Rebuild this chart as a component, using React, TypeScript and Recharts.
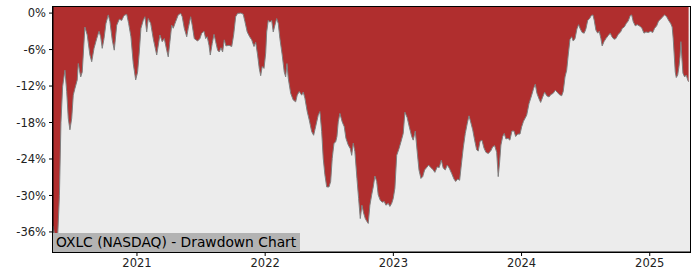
import { AreaChart, Area, XAxis, YAxis, CartesianGrid } from "recharts"

// decimal years
const dates = [
    2020.345, 2020.36, 2020.38, 2020.395, 2020.407, 2020.42, 2020.438, 2020.452, 2020.464, 2020.477,
    2020.491, 2020.503, 2020.516, 2020.534, 2020.542, 2020.561, 2020.573, 2020.594, 2020.612, 2020.633,
    2020.647, 2020.665, 2020.686, 2020.704, 2020.717, 2020.729, 2020.743, 2020.758, 2020.776, 2020.789,
    2020.807, 2020.823, 2020.842, 2020.862, 2020.881, 2020.899, 2020.92, 2020.935, 2020.953, 2020.971,
    2020.99, 2021.005, 2021.018, 2021.031, 2021.049, 2021.062, 2021.076, 2021.088, 2021.107, 2021.127,
    2021.154, 2021.179, 2021.197, 2021.213, 2021.232, 2021.244, 2021.257, 2021.271, 2021.283, 2021.302,
    2021.322, 2021.341, 2021.353, 2021.369, 2021.388, 2021.4, 2021.419, 2021.431, 2021.447, 2021.473,
    2021.491, 2021.505, 2021.523, 2021.536, 2021.548, 2021.562, 2021.572, 2021.587, 2021.601, 2021.614,
    2021.629, 2021.642, 2021.655, 2021.668, 2021.681, 2021.694, 2021.718, 2021.739, 2021.754, 2021.77,
    2021.785, 2021.811, 2021.829, 2021.842, 2021.86, 2021.879, 2021.895, 2021.913, 2021.926, 2021.941,
    2021.954, 2021.965, 2021.977, 2021.991, 2022.004, 2022.012, 2022.024, 2022.037, 2022.051, 2022.063,
    2022.076, 2022.09, 2022.102, 2022.115, 2022.133, 2022.149, 2022.16, 2022.17, 2022.18, 2022.199,
    2022.219, 2022.238, 2022.25, 2022.266, 2022.285, 2022.297, 2022.31, 2022.328, 2022.344, 2022.363,
    2022.378, 2022.388, 2022.402, 2022.414, 2022.427, 2022.441, 2022.453, 2022.466, 2022.48, 2022.498,
    2022.511, 2022.523, 2022.537, 2022.55, 2022.56, 2022.57, 2022.583, 2022.601, 2022.617, 2022.63,
    2022.648, 2022.664, 2022.675, 2022.687, 2022.7, 2022.716, 2022.729, 2022.742, 2022.755, 2022.768,
    2022.781, 2022.794, 2022.804, 2022.817, 2022.831, 2022.843, 2022.856, 2022.87, 2022.882, 2022.898,
    2022.913, 2022.929, 2022.942, 2022.96, 2022.973, 2022.987, 2022.999, 2023.012, 2023.026, 2023.044,
    2023.059, 2023.077, 2023.09, 2023.108, 2023.124, 2023.143, 2023.155, 2023.171, 2023.186, 2023.2,
    2023.215, 2023.229, 2023.244, 2023.26, 2023.275, 2023.291, 2023.307, 2023.324, 2023.342, 2023.358,
    2023.374, 2023.389, 2023.405, 2023.42, 2023.436, 2023.455, 2023.473, 2023.486, 2023.502, 2023.517,
    2023.53, 2023.545, 2023.561, 2023.577, 2023.59, 2023.603, 2023.619, 2023.634, 2023.65, 2023.662,
    2023.676, 2023.691, 2023.707, 2023.722, 2023.74, 2023.759, 2023.775, 2023.79, 2023.806, 2023.818,
    2023.829, 2023.839, 2023.853, 2023.865, 2023.878, 2023.894, 2023.909, 2023.925, 2023.941, 2023.954,
    2023.97, 2023.988, 2024.001, 2024.015, 2024.04, 2024.058, 2024.079, 2024.094, 2024.107, 2024.12,
    2024.136, 2024.149, 2024.165, 2024.18, 2024.196, 2024.214, 2024.229, 2024.247, 2024.263, 2024.278,
    2024.294, 2024.313, 2024.325, 2024.339, 2024.352, 2024.364, 2024.378, 2024.391, 2024.403, 2024.417,
    2024.432, 2024.445, 2024.458, 2024.473, 2024.489, 2024.502, 2024.516, 2024.531, 2024.544, 2024.557,
    2024.567, 2024.58, 2024.594, 2024.606, 2024.619, 2024.629, 2024.643, 2024.658, 2024.676, 2024.692,
    2024.705, 2024.721, 2024.736, 2024.754, 2024.773, 2024.786, 2024.801, 2024.817, 2024.832, 2024.848,
    2024.859, 2024.871, 2024.887, 2024.902, 2024.918, 2024.937, 2024.955, 2024.97, 2024.988, 2025.007,
    2025.023, 2025.038, 2025.054, 2025.069, 2025.085, 2025.101, 2025.116, 2025.132, 2025.147, 2025.163,
    2025.175, 2025.183, 2025.191, 2025.199, 2025.207, 2025.218, 2025.228, 2025.236, 2025.243, 2025.251,
    2025.259, 2025.272, 2025.285, 2025.296, 2025.303,
]

// drawdown in percent
const drawdown = [
    -35.0, -36.8, -37.4, -30.0, -18.0, -12.1, -9.4, -12.9, -17.3, -19.2,
    -17.3, -13.5, -12.4, -11.0, -8.3, -10.5, -9.7, -2.3, -3.6, -6.9,
    -8.0, -5.8, -4.2, -3.0, -3.9, -5.8, -4.2, -1.7, -0.3, -1.4,
    -4.4, -6.1, -2.0, -1.0, -1.2, -0.4, -0.2, -1.7, -3.9, -8.3,
    -11.0, -9.7, -6.4, -2.5, -1.2, -0.6, -3.1, -0.9, -1.7, -4.2,
    -6.9, -3.6, -4.7, -4.2, -6.1, -7.2, -4.7, -2.0, -2.5, -1.4,
    -0.3, -0.05, -0.6, -2.5, -3.9, -2.5, -0.6, -2.0, -4.2, -4.6,
    -4.2, -3.3, -3.0, -4.2, -3.9, -5.3, -6.9, -5.0, -3.5, -4.7,
    -6.1, -6.4, -5.7, -6.4, -4.4, -5.4, -5.3, -5.5, -3.6, -0.6,
    -0.05, 0, -0.2, -1.4, -3.1, -3.9, -4.4, -5.5, -4.8, -6.9,
    -9.1, -10.3, -8.8, -9.1, -6.6, -3.1, -1.2, -1.5, -1.2, -3.1,
    -2.0, -0.9, -1.7, -4.2, -6.9, -9.7, -10.5, -8.3, -10.7, -13.2,
    -14.3, -14.6, -13.5, -12.9, -13.5, -13.0, -14.0, -16.2, -17.6, -19.5,
    -20.1, -19.2, -17.9, -16.8, -16.2, -19.5, -23.9, -26.6, -28.6, -28.6,
    -27.7, -23.9, -21.4, -21.2, -20.3, -17.9, -16.5, -17.9, -18.7, -20.6,
    -21.7, -22.3, -23.4, -21.4, -22.8, -27.2, -30.5, -33.8, -31.6, -32.9,
    -33.8, -34.3, -34.6, -31.6, -29.9, -28.6, -26.8, -27.7, -29.9, -30.8,
    -31.1, -31.0, -31.6, -31.3, -31.8, -31.3, -30.5, -28.8, -23.4, -22.3,
    -21.2, -19.8, -16.3, -17.2, -18.7, -20.3, -20.9, -19.4, -22.8, -25.8,
    -27.2, -26.9, -25.8, -25.4, -25.0, -25.4, -25.7, -26.2, -25.3, -25.4,
    -24.2, -25.5, -25.8, -25.0, -25.5, -26.4, -27.3, -27.7, -27.3, -27.5,
    -25.0, -22.2, -19.8, -18.1, -16.9, -17.9, -19.2, -20.9, -22.5, -22.7,
    -21.1, -20.9, -22.2, -22.9, -23.1, -22.7, -22.0, -21.8, -22.9, -26.9,
    -24.5, -21.7, -20.3, -19.8, -20.7, -20.6, -20.9, -19.4, -19.4, -20.3,
    -19.9, -19.9, -18.7, -17.8, -16.8, -14.9, -13.5, -12.4, -11.7, -13.2,
    -14.1, -14.7, -13.8, -13.0, -13.6, -13.8, -13.4, -13.2, -12.7, -13.0,
    -13.4, -13.6, -12.9, -10.5, -9.4, -6.9, -4.3, -3.9, -4.6, -4.2,
    -2.6, -1.9, -2.6, -3.2, -3.3, -2.6, -1.2, -0.9, -0.4, -0.3,
    -1.2, -2.8, -3.3, -3.0, -4.2, -5.4, -4.7, -4.2, -3.7, -3.3,
    -3.9, -4.3, -4.2, -3.5, -3.1, -2.5, -2.3, -1.7, -1.3, -0.4,
    -0.3, -1.4, -2.1, -1.9, -2.1, -2.4, -3.3, -3.1, -3.2, -3.0,
    -3.2, -2.5, -2.1, -1.3, -1.0, -0.6, -0.3, -0.6, -1.2, -1.7,
    -2.3, -4.2, -6.9, -9.7, -10.6, -10.2, -8.8, -7.2, -4.7, -7.5,
    -9.9, -10.5, -10.2, -11.0, -11.3,
]

const yearTicks = [2021, 2022, 2023, 2024, 2025]
const pctTicks = [0, -6, -12, -18, -24, -30, -36]
const title = "OXLC (NASDAQ) - Drawdown Chart"

const data = dates.map((t, i) => ({ t, dd: drawdown[i] }))

const font = "DejaVu Sans, sans-serif"
const tickStyle = { fontSize: 11.5, fill: "#222", fontFamily: font }

export default function App() {
    return (
        <div style={{ position: "absolute", left: 0, top: 0, width: 700, height: 280 }}>
            <AreaChart
                width={700}
                height={280}
                data={data}
                margin={{ top: 7, right: 10, left: 8, bottom: 8 }}
            >
                <CartesianGrid horizontal={false} vertical={false} fill="#ececec" />
                <XAxis
                    dataKey="t"
                    type="number"
                    domain={[2020.345, 2025.314]}
                    allowDataOverflow
                    ticks={yearTicks}
                    tickFormatter={(v) => String(v)}
                    height={20}
                    tickSize={4}
                    tickMargin={3}
                    tick={tickStyle}
                    axisLine={{ stroke: "#000" }}
                    tickLine={{ stroke: "#000" }}
                />
                <YAxis
                    type="number"
                    domain={[-39.3, 1]}
                    allowDataOverflow
                    ticks={pctTicks}
                    tickFormatter={(v) => `${v}%`}
                    width={45}
                    tickSize={4}
                    tickMargin={3}
                    tick={tickStyle}
                    axisLine={{ stroke: "#000" }}
                    tickLine={{ stroke: "#000" }}
                />
                <Area
                    type="linear"
                    dataKey="dd"
                    baseValue={1}
                    fill="#b02e2e"
                    fillOpacity={1}
                    stroke="#7f7f7f"
                    strokeWidth={1}
                    isAnimationActive={false}
                    dot={false}
                    activeDot={false}
                />
            </AreaChart>
            <div
                style={{
                    position: "absolute",
                    left: 53,
                    top: 233,
                    width: 247,
                    height: 19,
                    background: "#b3b3b3",
                    fontFamily: font,
                    fontSize: 13.8,
                    lineHeight: "19px",
                    color: "#000",
                    paddingLeft: 3,
                    boxSizing: "border-box",
                    whiteSpace: "nowrap",
                }}
            >
                {title}
            </div>
            {/* frame round the plot area */}
            <div
                style={{
                    position: "absolute",
                    left: 52,
                    top: 6,
                    width: 639,
                    height: 247,
                    border: "1px solid #000",
                    boxSizing: "border-box",
                    pointerEvents: "none",
                }}
            />
        </div>
    )
}
